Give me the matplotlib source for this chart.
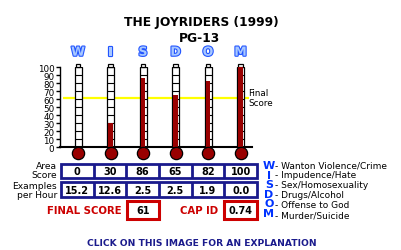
import matplotlib
matplotlib.use("Agg")
import matplotlib.pyplot as plt
from matplotlib.patches import Rectangle
import matplotlib.patheffects as pe

title = "THE JOYRIDERS (1999)"
rating = "PG-13"
letters = ["W", "I", "S", "D", "O", "M"]
area_scores = [0, 30, 86, 65, 82, 100]
examples_per_hour = ["15.2", "12.6", "2.5", "2.5", "1.9", "0.0"]
final_score = 61
cap_id = "0.74"
legend_labels = ["Wanton Violence/Crime", "Impudence/Hate", "Sex/Homosexuality",
                 "Drugs/Alcohol", "Offense to God", "Murder/Suicide"]
yticks = list(range(0, 101, 10))

W, H = 401, 251
fig = plt.figure(figsize=(W / 100, H / 100), dpi=100)
fig.patch.set_facecolor("white")

NAVY = "#1a1a8c"
RED = "#cc0000"
DARKRED = "#990000"
BLUE = "#0033ff"

# overlay axes in pixel coords
ov = fig.add_axes([0, 0, 1, 1])
ov.set_xlim(0, W)
ov.set_ylim(H, 0)
ov.axis("off")

# thermometer axes
px_left, px_right, px_top, px_bot = 60, 252, 68, 148
col0, colstep = 78, 32.5
ax = fig.add_axes([px_left / W, 1 - px_bot / H, (px_right - px_left) / W, (px_bot - px_top) / H])
ax.set_xlim((px_left - col0) / colstep, (px_right - col0) / colstep)
ax.set_ylim(0, 100)
ax.patch.set_alpha(0)
for s in ["top", "right"]:
    ax.spines[s].set_visible(False)
ax.spines["left"].set_linewidth(1.0)
ax.spines["bottom"].set_linewidth(1.5)
ax.set_xticks([])
ax.set_yticks(yticks)
ax.set_yticklabels([str(v) for v in yticks], fontsize=6.3)
ax.tick_params(axis="y", length=3, width=1, pad=1)

xs = list(range(len(letters)))
tube_w = 7 / colstep
bar_w = 4.5 / colstep

# final score line
ax.hlines(final_score, -0.47, 5.25, color="#ffff00", lw=1.6, zorder=1)

# tubes
ax.bar(xs, [100] * len(xs), width=tube_w, color="white", edgecolor="black", lw=0.9, zorder=2)
ax.bar(xs, [4] * len(xs), bottom=100, width=tube_w * 0.7, color="white", edgecolor="black",
       lw=0.9, zorder=2, clip_on=False)
for x in xs:
    ax.hlines(yticks[1:-1], x - tube_w / 2, x + tube_w / 2, color="black", lw=0.8, zorder=3)
ax.bar(xs, area_scores, width=bar_w, color=DARKRED, lw=0, zorder=4)
# bulbs
ax.scatter(xs, [-7.5] * len(xs), s=78, color=DARKRED, edgecolor="black", lw=0.9,
           zorder=5, clip_on=False)

# WISDOM letters
for x, l in zip(xs, letters):
    ax.text(x, 118.5, l, ha="center", va="center", fontsize=9, fontweight="bold",
            color="#a8c8ff", clip_on=False,
            path_effects=[pe.withStroke(linewidth=1.6, foreground="#2255ff")])

ov.text(248, 94, "Final", fontsize=6.3, ha="left", va="center")
ov.text(248, 104, "Score", fontsize=6.3, ha="left", va="center")

# Title
ov.text(201, 22.5, title, fontsize=8.8, fontweight="bold", ha="center", va="center")
ov.text(200, 38, rating, fontsize=8.8, fontweight="bold", ha="center", va="center")

# tables
tab_l, tab_r = 61, 257
cw = (tab_r - tab_l) / len(letters)

def row(y0, y1, vals):
    ov.add_patch(Rectangle((tab_l, y0), tab_r - tab_l, y1 - y0, fill=False,
                           edgecolor=NAVY, lw=2))
    for i in range(1, len(vals)):
        ov.plot([tab_l + i * cw] * 2, [y0, y1], color=NAVY, lw=2, solid_capstyle="butt")
    for i, v in enumerate(vals):
        ov.text(tab_l + (i + 0.5) * cw, (y0 + y1) / 2 + 0.5, str(v), ha="center",
                va="center", fontsize=7, fontweight="bold")

row(165, 178.5, area_scores)
row(183, 197.5, examples_per_hour)

ov.text(57, 162.5, "Area\nScore", fontsize=6.6, ha="right", va="top", linespacing=0.95)
ov.text(57, 182.5, "Examples\nper Hour", fontsize=6.6, ha="right", va="top", linespacing=0.95)

# final score / cap id
ov.text(122, 211, "FINAL SCORE", fontsize=7.3, fontweight="bold", color=RED,
        ha="right", va="center")
ov.add_patch(Rectangle((127, 202), 32, 17.5, fill=False, edgecolor=RED, lw=2.2))
ov.text(143, 211, str(final_score), fontsize=7, fontweight="bold", ha="center", va="center")
ov.text(218, 211, "CAP ID", fontsize=7.3, fontweight="bold", color=RED,
        ha="right", va="center")
ov.add_patch(Rectangle((223.5, 202), 33.5, 17.5, fill=False, edgecolor=RED, lw=2.2))
ov.text(240.5, 211, cap_id, fontsize=7, fontweight="bold", ha="center", va="center")

# legend (multi-line texts)
ov.text(269, 161.3, "\n".join(letters), fontsize=8, fontweight="bold", color=BLUE,
        ha="center", va="top", multialignment="center", linespacing=0.94)
ov.text(275, 161.5, "\n".join("- " + lab for lab in legend_labels), fontsize=6.5,
        ha="left", va="top", multialignment="left", linespacing=1.13)

ov.text(202, 244, "CLICK ON THIS IMAGE FOR AN EXPLANATION", fontsize=6.6,
        fontweight="bold", color=NAVY, ha="center", va="center")

fig.savefig("out.png", dpi=100, facecolor="white")
